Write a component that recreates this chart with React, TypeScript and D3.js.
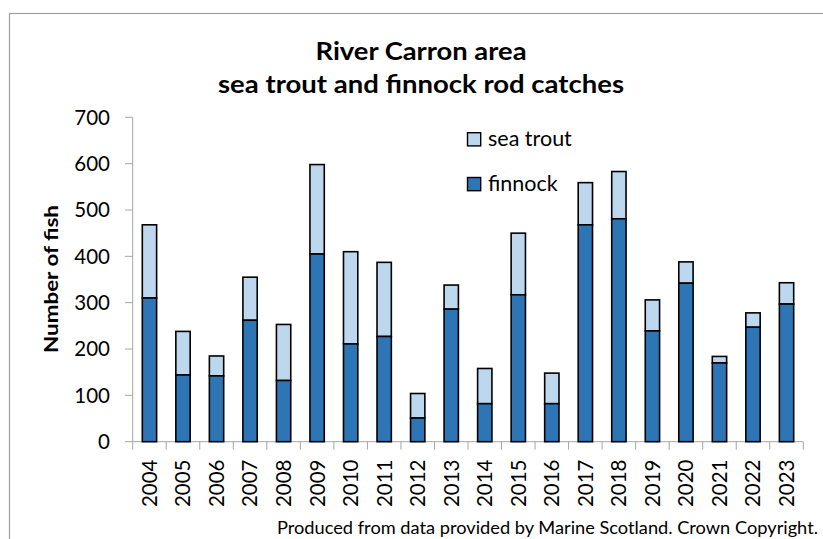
import React from "react";
import * as d3 from "d3";

const years = ["2004","2005","2006","2007","2008","2009","2010","2011","2012","2013","2014","2015","2016","2017","2018","2019","2020","2021","2022","2023"];
const finnock = [310,144,142,262,132,405,211,227,51,286,82,317,82,468,481,239,342,170,247,297];
const seaTrout = [158,94,43,93,121,193,199,160,53,52,76,133,66,91,102,67,46,14,31,46];
const yTicks = [0,100,200,300,400,500,600,700];
const titleLines = ["River Carron area", "sea trout and finnock rod catches"];
const legendItems = [
  { label: "sea trout", color: "#BDD7EE" },
  { label: "finnock", color: "#2E75B6" },
];
const footnote = "Produced from data provided by Marine Scotland. Crown Copyright.";

const FONT = "Lato, 'Open Sans', sans-serif";

export default function App() {
  const W = 823, H = 539;
  const x = d3.scaleBand<string>().domain(years).range([132.7, 803.3]).paddingInner(0.573).paddingOuter(0.2865);
  const y = d3.scaleLinear().domain([0, 700]).range([441.7, 117.3]);
  const axisColor = "#A6A6A6";
  const bw = x.bandwidth();
  return (
    <svg width={W} height={H} style={{ position: "absolute", left: 0, top: 0, background: "#fff" }} fontFamily={FONT}>
      <rect x={9.5} y={13.5} width={900} height={600} fill="#fff" stroke="#A0A0A0" strokeWidth={1.2} />
      {titleLines.map((t, i) => (
        <text key={t} x={421} y={59.5 + i * 33} textAnchor="middle" fontSize={24} fontWeight="bold" fill="#000"
          textLength={i === 0 ? 211 : 406} lengthAdjust="spacingAndGlyphs">{t}</text>
      ))}
      {/* y axis */}
      <line x1={132.7} x2={132.7} y1={y(700)} y2={y(0)} stroke={axisColor} strokeWidth={1} />
      {yTicks.map((v) => (
        <g key={v}>
          <line x1={125} x2={132.7} y1={y(v)} y2={y(v)} stroke={axisColor} strokeWidth={1} />
          <text x={110} y={y(v)} dy="0.36em" textAnchor="end" fontSize={20.5} fill="#000">{v}</text>
        </g>
      ))}
      {/* x axis */}
      <line x1={132.7} x2={803.3} y1={y(0)} y2={y(0)} stroke={axisColor} strokeWidth={1} />
      {years.map((yr, i) => {
        const left = 132.7 + i * x.step();
        return <line key={"t" + yr} x1={left} x2={left} y1={y(0)} y2={y(0) + 8} stroke={axisColor} strokeWidth={1} />;
      })}
      <line x1={803.3} x2={803.3} y1={y(0)} y2={y(0) + 8} stroke={axisColor} strokeWidth={1} />
      {/* bars */}
      {years.map((yr, i) => {
        const x0 = x(yr)!;
        const f = finnock[i];
        const s = seaTrout[i];
        return (
          <g key={yr}>
            <rect x={x0} y={y(f + s)} width={bw} height={y(f) - y(f + s)} fill="#BDD7EE" stroke="#000" strokeWidth={1.6} />
            <rect x={x0} y={y(f)} width={bw} height={y(0) - y(f)} fill="#2E75B6" stroke="#000" strokeWidth={1.6} />
          </g>
        );
      })}
      {years.map((yr) => {
        const cx = x(yr)! + bw / 2;
        return (
          <text key={"l" + yr} transform={`translate(${cx},459.5) rotate(-90)`} dy="0.36em" textAnchor="end" fontSize={20.5} fill="#000">{yr}</text>
        );
      })}
      {/* y label */}
      <text transform="translate(51,279) rotate(-90)" dy="0.36em" textAnchor="middle" fontSize={19} fontWeight="bold" fill="#000"
        textLength={148} lengthAdjust="spacingAndGlyphs">Number of fish</text>
      {/* legend */}
      {legendItems.map((it, i) => (
        <g key={it.label} transform={`translate(0,${i * 44.8})`}>
          <rect x={467.5} y={132.7} width={13.2} height={13.2} fill={it.color} stroke="#000" strokeWidth={1.4} />
          <text x={488} y={146} fontSize={21.5} fill="#000">{it.label}</text>
        </g>
      ))}
      {/* footnote */}
      <text x={818} y={533.5} textAnchor="end" fontSize={17.5} fill="#000" textLength={541} lengthAdjust="spacingAndGlyphs">{footnote}</text>
    </svg>
  );
}
